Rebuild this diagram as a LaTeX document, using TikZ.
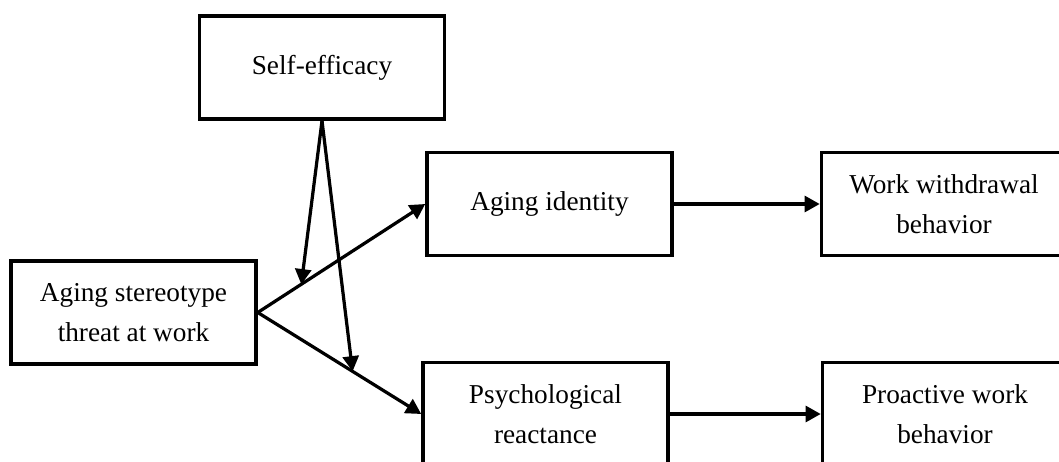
\documentclass[tikz,border=0pt]{standalone}
\usepackage{fontspec}
\setmainfont{Liberation Serif}
\usetikzlibrary{shapes}
\usetikzlibrary{arrows.meta}
\tikzset{
  var_node/.style = {rectangle, align=center, draw=black, line width=2.6pt,
    minimum width=6.12cm, minimum height=2.58cm,
    font=\fontsize{19.4}{28.5}\selectfont},% variable du modele
  path_arrow/.style = {-{Triangle[length=3.8mm, width=4mm]}, line width=2.3pt}% effet
}

\begin{document}
\begin{tikzpicture}[x=0.025cm, y=-0.025cm]
    \clip (0,0) rectangle (1059,461);
    \node [var_node] (selfeff) at (322,67.5) {Self-efficacy};
    \node [var_node] (threat) at (133.5,312.5) {Aging stereotype\\threat at work};
    \node [var_node] (identity) at (549.5,204) {Aging identity};
    \node [var_node] (withdraw) at (944,204) {Work withdrawal\\behavior};
    \node [var_node] (reactance) at (545.5,414) {Psychological\\reactance};
    \node [var_node] (proactive) at (945,414) {Proactive work\\behavior};
    % chemins principaux
    \draw [path_arrow] (threat.east) -- (identity.west) coordinate[pos=0.26] (mod_up);
    \draw [path_arrow] (threat.east) -- (reactance.west) coordinate[pos=0.58] (mod_down);
    \draw [path_arrow] (identity) -- (withdraw);
    \draw [path_arrow] (reactance) -- (proactive);
    % moderation
    \draw [path_arrow] (selfeff.south) -- (mod_up);
    \draw [path_arrow] (selfeff.south) -- (mod_down);
\end{tikzpicture}
\end{document}
